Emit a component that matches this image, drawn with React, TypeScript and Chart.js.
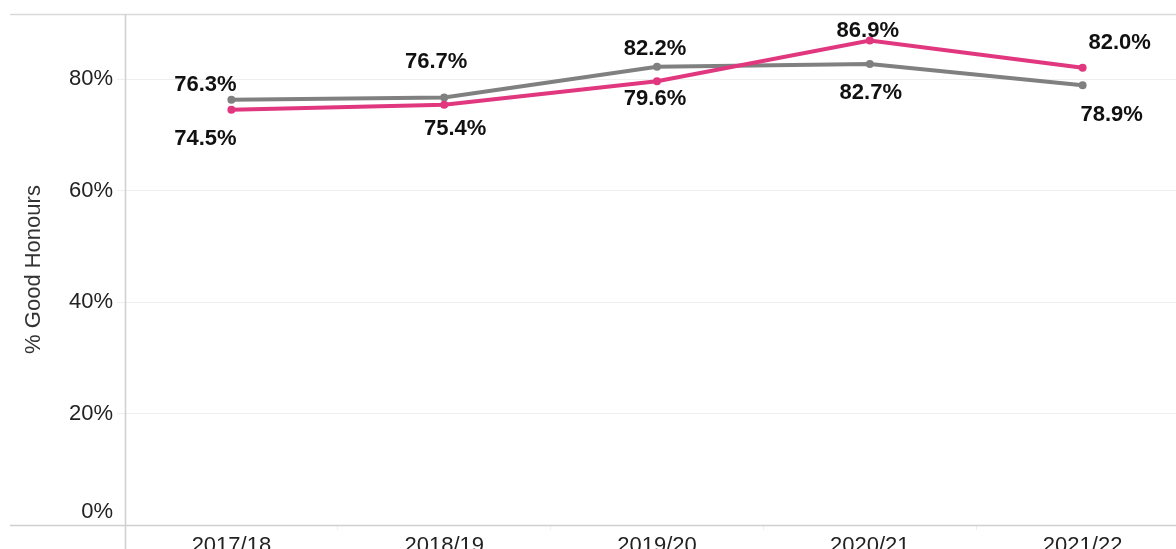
import React, { useEffect, useRef } from "react";
import { Chart, registerables } from "chart.js";

Chart.register(...registerables);

const categories = ["2017/18", "2018/19", "2019/20", "2020/21", "2021/22"];
const providerValues = [74.5, 75.4, 79.6, 86.9, 82.0];
const sectorValues = [76.3, 76.7, 82.2, 82.7, 78.9];
const yTicks = [0, 20, 40, 60, 80];

const PINK = "#e0377f";
const GREY = "#808080";
const FONT = "Arial, 'Liberation Sans', sans-serif";

// label offsets (styling only): [dx, dy] from point centre
const labelOffsets: number[][][] = [
  [[-26, 29], [11, 24], [-2, 18], [-2, -10], [37, -25]],
  [[-26, -15], [-8, -35], [-2, -18], [1, 29], [29, 30]],
];

const framePlugin = {
  id: "frame",
  beforeDatasetsDraw(chart: any) {
    const { ctx, chartArea } = chart;
    ctx.save();
    ctx.lineWidth = 1.5;
    ctx.strokeStyle = "#d9d9d9";
    ctx.beginPath();
    ctx.moveTo(10, chartArea.top + 0.5);
    ctx.lineTo(chart.width, chartArea.top + 0.5);
    ctx.stroke();
    ctx.strokeStyle = "#cfcfcf";
    ctx.beginPath();
    ctx.moveTo(10, chartArea.bottom + 0.5);
    ctx.lineTo(chart.width, chartArea.bottom + 0.5);
    ctx.stroke();
    ctx.strokeStyle = "#d0d0d0";
    ctx.beginPath();
    ctx.moveTo(chartArea.left + 0.5, chartArea.top);
    ctx.lineTo(chartArea.left + 0.5, chart.height);
    ctx.stroke();
    ctx.restore();
  },
};

const labelPlugin = {
  id: "valueLabels",
  afterDatasetsDraw(chart: any) {
    const { ctx } = chart;
    ctx.save();
    ctx.font = "bold 22px " + FONT;
    ctx.fillStyle = "#111";
    ctx.textAlign = "center";
    ctx.textBaseline = "middle";
    chart.data.datasets.forEach((ds: any, di: number) => {
      const meta = chart.getDatasetMeta(di);
      meta.data.forEach((pt: any, i: number) => {
        const off = labelOffsets[di][i];
        ctx.fillText(ds.data[i].toFixed(1) + "%", pt.x + off[0], pt.y + off[1]);
      });
    });
    ctx.restore();
  },
};

export default function App() {
  const ref = useRef<HTMLCanvasElement | null>(null);
  useEffect(() => {
    if (!ref.current) return;
    const chart = new Chart(ref.current, {
      type: "line",
      data: {
        labels: categories,
        datasets: [
          {
            label: "Provider",
            data: providerValues,
            borderColor: PINK,
            backgroundColor: PINK,
            borderWidth: 4,
            pointRadius: 4,
            pointBackgroundColor: PINK,
            pointBorderWidth: 0,
            tension: 0,
          },
          {
            label: "Sector",
            data: sectorValues,
            borderColor: GREY,
            backgroundColor: GREY,
            borderWidth: 4,
            pointRadius: 4,
            pointBackgroundColor: GREY,
            pointBorderWidth: 0,
            tension: 0,
          },
        ],
      },
      options: {
        animation: false,
        responsive: false,
        layout: { padding: { top: 14, left: 0, right: 0, bottom: 0 } },
        plugins: {
          legend: { display: false },
          tooltip: { enabled: false },
        },
        scales: {
          x: {
            offset: true,
            grid: {
              offset: true,
              drawOnChartArea: false,
              drawTicks: true,
              tickLength: 5,
              tickColor: "#eeeeee",
            },
            border: { display: false },
            ticks: {
              color: "#222",
              font: { family: FONT, size: 22 },
              padding: 3,
              maxRotation: 0,
            },
            afterFit: (scale: any) => {
              scale.height = 55;
            },
          },
          y: {
            min: 0,
            max: 91.66,
            afterBuildTicks: (scale: any) => {
              scale.ticks = yTicks.map((v) => ({ value: v }));
            },
            grid: {
              color: "#efefef",
              lineWidth: 1,
              drawTicks: true,
              tickLength: 8,
              tickColor: "#efefef",
            },
            border: { display: false },
            ticks: {
              color: "#222",
              font: { family: FONT, size: 22 },
              padding: 4,
              callback: (v: any) => (v === 0 ? ["0%", ""] : v + "%"),
            },
            title: {
              display: true,
              text: "% Good Honours",
              color: "#333",
              font: { family: FONT, size: 22 },
              padding: { top: 21, bottom: 0 },
            },
            afterFit: (scale: any) => {
              scale.width = 125;
            },
          },
        },
      },
      plugins: [
        framePlugin,
        labelPlugin,
        {
          id: "fixTop",
          beforeLayout(chart: any) {
            const y = chart.scales?.y;
            if (y) y._calculatePadding = function () {
              this.paddingTop = 0;
              this.paddingBottom = 0;
            };
          },
        },
      ],
    });
    return () => chart.destroy();
  }, []);
  return (
    <div
      style={{
        position: "absolute",
        left: 0,
        top: 0,
        width: 1176,
        height: 549,
        overflow: "hidden",
        background: "#fff",
      }}
    >
      <canvas ref={ref} width={1193} height={580} style={{ width: 1193, height: 580, display: "block" }} />
    </div>
  );
}
